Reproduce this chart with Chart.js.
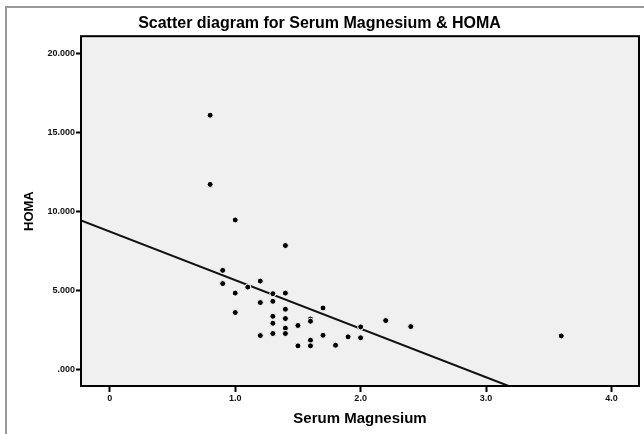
<!DOCTYPE html>
<html>
<head>
<meta charset="utf-8">
<script src="https://cdn.jsdelivr.net/npm/chart.js@4"></script>
<style>
  html, body { margin: 0; padding: 0; background: #fff; }
  #chart { display: block; }
</style>
</head>
<body>
<canvas id="chart" width="644" height="434"></canvas>
<script>
// ===== DATA =====
const magnesium = [0.80, 0.80, 1.00, 1.40, 0.90, 0.90, 1.10, 1.20, 1.00, 1.30,
                   1.40, 1.20, 1.30, 1.00, 1.40, 1.70, 1.30, 1.30, 1.40, 1.40,
                   1.40, 1.30, 1.20, 1.50, 1.60, 1.60, 1.50, 1.60, 1.60, 1.70,
                   1.80, 1.90, 2.00, 2.00, 2.20, 2.40, 3.60];
const homa = [16.07, 11.69, 9.44, 7.82, 6.25, 5.41, 5.19, 5.57, 4.81, 4.77,
              4.81, 4.21, 4.29, 3.58, 3.79, 3.87, 3.34, 2.90, 3.20, 2.59,
              2.25, 2.25, 2.12, 2.76, 3.17, 3.03, 1.47, 1.83, 1.47, 2.14,
              1.51, 2.04, 2.67, 1.98, 3.07, 2.69, 2.10];

// fit line (left frame edge -> where it leaves the bottom)
const fitX = [-0.23, 3.18];
const fitY = [9.41, -1.07];

const xTicks = [0, 1, 2, 3, 4];
const yTicks = [0, 5, 10, 15, 20];

const xMin = -0.23, xMax = 4.22;
const yMin = -1.07, yMax = 21.07;

const fmtX = v => v === 0 ? '0' : v.toFixed(1);
const fmtY = v => v === 0 ? '.000' : v.toFixed(3);

// plot background, frame and the grey outer border
const plotFrame = {
  id: 'plotFrame',
  beforeDraw(chart) {
    const { ctx, chartArea: a } = chart;
    ctx.save();
    ctx.fillStyle = '#fff';
    ctx.fillRect(0, 0, chart.width, chart.height);
    ctx.strokeStyle = '#999';
    ctx.lineWidth = 2;
    ctx.beginPath();
    ctx.moveTo(6, chart.height);
    ctx.lineTo(6, 7);
    ctx.lineTo(chart.width, 7);
    ctx.stroke();
    ctx.fillStyle = '#f0f0f0';
    ctx.fillRect(a.left, a.top, a.right - a.left, a.bottom - a.top);
    ctx.restore();
  },
  afterDraw(chart) {
    const { ctx, chartArea: a } = chart;
    ctx.save();
    ctx.strokeStyle = '#000';
    ctx.lineWidth = 2;
    ctx.strokeRect(a.left, a.top, a.right - a.left, a.bottom - a.top);
    ctx.restore();
  }
};

const tickFont = { family: 'Liberation Sans, Arial, sans-serif', size: 9, weight: 'bold' };

new Chart(document.getElementById('chart'), {
  type: 'scatter',
  data: {
    datasets: [
      {
        label: 'HOMA',
        data: magnesium.map((m, i) => ({ x: m, y: homa[i] })),
        backgroundColor: '#000',
        borderColor: '#fff',
        borderWidth: 1,
        pointRadius: 3,
        order: 1
      },
      {
        label: 'Fit',
        type: 'line',
        data: fitX.map((x, i) => ({ x, y: fitY[i] })),
        borderColor: '#111',
        borderWidth: 2,
        pointRadius: 0,
        fill: false,
        order: 2
      }
    ]
  },
  options: {
    responsive: false,
    animation: false,
    layout: { padding: { left: 0, right: 5, top: 0, bottom: 0 } },
    plugins: {
      legend: { display: false },
      tooltip: { enabled: false },
      title: {
        display: true,
        text: 'Scatter diagram for Serum Magnesium & HOMA',
        color: '#000',
        font: { family: 'Liberation Sans, Arial, sans-serif', size: 16, weight: 'bold' },
        padding: { top: 14, bottom: 3 }
      }
    },
    scales: {
      x: {
        type: 'linear',
        min: xMin,
        max: xMax,
        afterBuildTicks: axis => { axis.ticks = xTicks.map(v => ({ value: v })); },
        afterFit: axis => { axis.height = 48; },
        grid: { drawOnChartArea: false, drawTicks: true, tickLength: 6, tickColor: '#000', tickWidth: 2 },
        border: { display: false },
        ticks: { color: '#111', font: tickFont, padding: 1, maxRotation: 0, callback: fmtX },
        title: {
          display: true,
          text: 'Serum Magnesium',
          color: '#000',
          font: { family: 'Liberation Sans, Arial, sans-serif', size: 15, weight: 'bold' },
          padding: { top: 0, bottom: 6 }
        }
      },
      y: {
        type: 'linear',
        min: yMin,
        max: yMax,
        afterBuildTicks: axis => { axis.ticks = yTicks.map(v => ({ value: v })); },
        afterFit: axis => { axis.width = 81; },
        grid: { drawOnChartArea: false, drawTicks: true, tickLength: 5, tickColor: '#000', tickWidth: 2 },
        border: { display: false },
        ticks: { color: '#111', font: tickFont, padding: 1, callback: fmtY },
        title: {
          display: true,
          text: 'HOMA',
          color: '#000',
          font: { family: 'Liberation Sans, Arial, sans-serif', size: 13, weight: 'bold' },
          padding: { top: 22, bottom: 0 }
        }
      }
    }
  },
  plugins: [plotFrame]
});
</script>
</body>
</html>
